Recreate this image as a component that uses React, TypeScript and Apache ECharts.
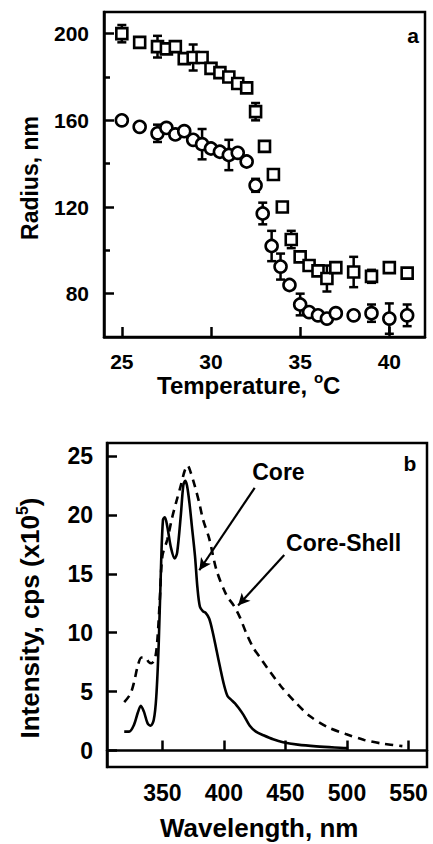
import React, { useEffect, useRef } from "react";
import * as echarts from "echarts";

// ---------- data ----------
const tempTicks = [25, 30, 35, 40];
const radiusTicks = [80, 120, 160, 200];
const radiusMinorTicks = [100, 140, 180];
const wavelengthTicks = [350, 400, 450, 500, 550];
const intensityTicks = [0, 5, 10, 15, 20, 25];

// squares (upper set)
const sqTemp = [25, 26, 27, 27.5, 28, 28.5, 29, 29.5, 30, 30.5, 31, 31.5, 32, 32.5, 33, 33.5, 34, 34.5, 35, 35.5, 36, 36.5, 37, 38, 39, 40, 41];
const sqRadius = [200, 196, 194, 193, 194, 188.5, 189, 189, 184, 182, 180, 177, 175, 164, 148, 135, 120, 105, 97, 93, 90.5, 87, 92, 90, 88, 92, 89.5];
const sqErr = [4, 0, 5, 0, 0, 0, 6, 0, 0, 0, 0, 0, 0, 4, 2, 0, 0, 4, 0, 0, 2, 6, 0, 7, 3, 0, 0];

// circles (lower set)
const ciTemp = [25, 26, 27, 27.5, 28, 28.5, 29, 29.5, 30, 30.5, 31, 31.5, 32, 32.5, 32.9, 33.4, 33.9, 34.4, 35, 35.5, 36, 36.5, 37, 38, 39, 40, 41];
const ciRadius = [160, 157, 154, 156.5, 153.5, 155, 151, 149, 147, 145.5, 144, 145, 141, 130, 117, 102, 92.5, 84, 75, 71.5, 70, 68.5, 71, 70, 71, 68.5, 70];
const ciErr = [0, 0, 4, 0, 0, 0, 0, 7, 0, 0, 7, 0, 0, 3, 5, 7, 6, 0, 5, 0, 0, 0, 0, 0, 4, 7, 5];

// emission spectra [wavelength nm, intensity x1e5 cps]
const coreCurve = [
  [319, 1.6], [323, 1.6], [327, 2.2], [330, 3.2], [332.5, 3.8], [335, 3.3], [338, 2.3], [340.5, 2.1],
  [343, 2.6], [345, 4.5], [347, 9], [349, 16], [350.5, 19.6], [352, 19.8], [354, 19.0], [357, 17.2],
  [360, 16.3], [362, 16.8], [365, 20], [367, 22.5], [368.5, 22.9], [370, 22.5], [372, 21], [374, 19],
  [376.5, 16.5], [378.5, 13.8], [380.5, 12.2], [383, 11.8], [385, 11.7], [388, 11.2], [391, 10.0],
  [394, 8.5], [397, 7.0], [400, 5.6], [403, 4.6], [406, 4.3], [409, 4.0], [412, 3.6], [416, 3.0],
  [421, 2.1], [426, 1.6], [432, 1.3], [440, 0.95], [448, 0.7], [460, 0.5], [475, 0.35], [490, 0.25], [501, 0.2],
];
const shellCurve = [
  [319, 4.1], [324, 4.8], [327, 5.8], [330, 7.2], [333, 7.9], [336, 7.9], [339, 7.5], [341, 7.4],
  [344, 7.8], [346, 9.5], [348, 13], [350, 16.5], [354, 17.9], [358, 19.8], [361, 21], [365, 22.5],
  [368, 23.7], [370.5, 24.2], [373, 23.6], [376.5, 22.4], [380, 21], [383, 19.6], [388, 18], [394, 15.3],
  [402, 13.2], [408, 12.3], [413, 11.3], [418, 10.0], [424, 8.7], [430, 7.8], [436, 6.9], [446, 5.5],
  [458, 4.1], [470, 2.9], [484, 2.0], [499, 1.4], [514, 0.9], [528, 0.6], [545, 0.37],
];

// annotation anchors (data coords)
const coreLabelAt = [423, 23.6];
const coreArrow = [[425, 22.3], [380, 15.3]];
const shellLabelAt = [450.5, 17.6];
const shellArrow = [[449, 16.6], [411.5, 12.3]];

const FONT = "'Liberation Sans', Arial, Helvetica, sans-serif";
const BLACK = "#000";

function errBars(xs: number[], ys: number[], es: number[]) {
  const out: number[][] = [];
  xs.forEach((x, i) => {
    if (es[i] > 0) out.push([x, ys[i], es[i]]);
  });
  return out;
}

const renderErr = (params: any, api: any) => {
  const x = api.value(0);
  const y = api.value(1);
  const e = api.value(2);
  const t = api.coord([x, y + e]);
  const b = api.coord([x, y - e]);
  const hw = 4.5;
  const st = { stroke: BLACK, lineWidth: 2.5 };
  return {
    type: "group",
    children: [
      { type: "line", shape: { x1: t[0], y1: t[1], x2: b[0], y2: b[1] }, style: st },
      { type: "line", shape: { x1: t[0] - hw, y1: t[1], x2: t[0] + hw, y2: t[1] }, style: st },
      { type: "line", shape: { x1: b[0] - hw, y1: b[1], x2: b[0] + hw, y2: b[1] }, style: st },
    ],
  };
};

const topTickFont = { fontFamily: FONT, fontWeight: "bold" as const, fontSize: 21, color: BLACK };
const botTickFont = { fontFamily: FONT, fontWeight: "bold" as const, fontSize: 23, color: BLACK };
const annFont = { fontFamily: FONT, fontWeight: "bold" as const, fontSize: 23, color: BLACK };

export default function App() {
  const ref = useRef<HTMLDivElement>(null);
  useEffect(() => {
    if (!ref.current) return;
    const chart = echarts.init(ref.current, null, { renderer: "svg" });
    const axisLine = { show: true, lineStyle: { color: BLACK, width: 2.5 } };
    const tickStyle = { width: 2.5, color: BLACK };
    const option: any = {
      animation: false,
      backgroundColor: "#fff",
      grid: [
        { left: 104, top: 12, width: 321, height: 325, show: true, borderColor: BLACK, borderWidth: 2.5 },
        { left: 107, top: 443, width: 320, height: 324, show: true, borderColor: BLACK, borderWidth: 2.5 },
      ],
      xAxis: [
        {
          gridIndex: 0, type: "value", min: 24, max: 42,
          axisLine, splitLine: { show: false },
          axisTick: { inside: true, length: 10, lineStyle: tickStyle, customValues: tempTicks },
          axisLabel: { ...topTickFont, margin: 14, customValues: tempTicks },
        },
        {
          gridIndex: 1, type: "value", min: 305, max: 565,
          axisLine, splitLine: { show: false },
          axisTick: { inside: true, length: 10, lineStyle: tickStyle, customValues: wavelengthTicks },
          axisLabel: { ...botTickFont, margin: 14, customValues: wavelengthTicks },
        },
      ],
      yAxis: [
        {
          gridIndex: 0, type: "value", min: 60, max: 210,
          axisLine, splitLine: { show: false },
          axisTick: { inside: true, length: 10, lineStyle: tickStyle, customValues: radiusTicks },
          axisLabel: { ...topTickFont, margin: 15, customValues: radiusTicks },
        },
        {
          gridIndex: 0, type: "value", min: 60, max: 210, position: "left",
          axisLine: { show: false }, splitLine: { show: false }, axisLabel: { show: false },
          axisTick: { inside: true, length: 6, lineStyle: tickStyle, customValues: radiusMinorTicks },
        },
        {
          gridIndex: 1, type: "value", min: -1.4, max: 26.1,
          axisLine, splitLine: { show: false },
          axisTick: { inside: true, length: 10, lineStyle: tickStyle, customValues: intensityTicks },
          axisLabel: { ...botTickFont, margin: 14, customValues: intensityTicks },
        },
      ],
      series: [
        {
          type: "custom", xAxisIndex: 0, yAxisIndex: 0, renderItem: renderErr,
          encode: { x: 0, y: 1 }, data: errBars(sqTemp, sqRadius, sqErr), z: 1, silent: true,
        },
        {
          type: "custom", xAxisIndex: 0, yAxisIndex: 0, renderItem: renderErr,
          encode: { x: 0, y: 1 }, data: errBars(ciTemp, ciRadius, ciErr), z: 1, silent: true,
        },
        {
          type: "scatter", xAxisIndex: 0, yAxisIndex: 0, symbol: "rect", symbolSize: 11, z: 3,
          itemStyle: { color: "#fff", borderColor: BLACK, borderWidth: 2.6, opacity: 1 },
          data: sqTemp.map((t, i) => [t, sqRadius[i]]), silent: true,
        },
        {
          type: "scatter", xAxisIndex: 0, yAxisIndex: 0, symbol: "circle", symbolSize: 12, z: 3,
          itemStyle: { color: "#fff", borderColor: BLACK, borderWidth: 2.6, opacity: 1 },
          data: ciTemp.map((t, i) => [t, ciRadius[i]]), silent: true,
        },
        {
          type: "line", xAxisIndex: 1, yAxisIndex: 2, showSymbol: false, smooth: 0.3,
          lineStyle: { color: BLACK, width: 2.6, type: [8, 6] }, data: shellCurve, silent: true,
          markLine: {
            silent: true, symbol: ["none", "arrow"], symbolSize: [9, 12],
            lineStyle: { color: BLACK, width: 2.2, type: "solid" }, label: { show: false },
            data: [[{ coord: shellArrow[0] }, { coord: shellArrow[1] }]],
          },
          markPoint: {
            silent: true, symbol: "circle", symbolSize: 0,
            label: { show: true, position: "right", distance: 0, formatter: "Core-Shell", ...annFont },
            data: [{ coord: shellLabelAt }],
          },
        },
        {
          type: "line", xAxisIndex: 1, yAxisIndex: 2, showSymbol: false, smooth: 0.3,
          lineStyle: { color: BLACK, width: 2.6 }, data: coreCurve, silent: true,
          markLine: {
            silent: true, symbol: ["none", "arrow"], symbolSize: [9, 12],
            lineStyle: { color: BLACK, width: 2.2, type: "solid" }, label: { show: false },
            data: [[{ coord: coreArrow[0] }, { coord: coreArrow[1] }]],
          },
          markPoint: {
            silent: true, symbol: "circle", symbolSize: 0,
            label: { show: true, position: "right", distance: 0, formatter: "Core", ...annFont },
            data: [{ coord: coreLabelAt }],
          },
        },
      ],
      graphic: [
        {
          type: "text", x: 157, y: 385,
          style: {
            text: "{a|Temperature, }{s|o}{a|C}",
            align: "left", verticalAlign: "middle",
            rich: {
              a: { fontFamily: FONT, fontWeight: "bold", fontSize: 24, color: BLACK, lineHeight: 30 },
              s: { fontFamily: FONT, fontWeight: "bold", fontSize: 15, color: BLACK, verticalAlign: "top", lineHeight: 15 },
            },
          },
        },
        {
          type: "text", x: 30, y: 178, rotation: Math.PI / 2,
          style: { text: "Radius, nm", align: "center", verticalAlign: "middle", fontFamily: FONT, fontWeight: "bold", fontSize: 23, fill: BLACK },
        },
        {
          type: "text", x: 160, y: 828,
          style: { text: "Wavelength, nm", align: "left", verticalAlign: "middle", fontFamily: FONT, fontWeight: "bold", fontSize: 26, fill: BLACK },
        },
        {
          type: "text", x: 30, y: 618, rotation: Math.PI / 2,
          style: {
            text: "{a|Intensity, cps (x10}{s|5}{a|)}",
            align: "center", verticalAlign: "middle",
            rich: {
              a: { fontFamily: FONT, fontWeight: "bold", fontSize: 26, color: BLACK, lineHeight: 32 },
              s: { fontFamily: FONT, fontWeight: "bold", fontSize: 16, color: BLACK, verticalAlign: "top", lineHeight: 16 },
            },
          },
        },
        {
          type: "text", x: 413, y: 35,
          style: { text: "a", align: "center", verticalAlign: "middle", fontFamily: FONT, fontWeight: "bold", fontSize: 21, fill: BLACK },
        },
        {
          type: "text", x: 410, y: 463,
          style: { text: "b", align: "center", verticalAlign: "middle", fontFamily: FONT, fontWeight: "bold", fontSize: 21, fill: BLACK },
        },
      ],
    };
    chart.setOption(option);
    return () => chart.dispose();
  }, []);
  return (
    <div
      ref={ref}
      style={{ position: "fixed", left: 0, top: 0, width: 433, height: 844, background: "#fff" }}
    />
  );
}
